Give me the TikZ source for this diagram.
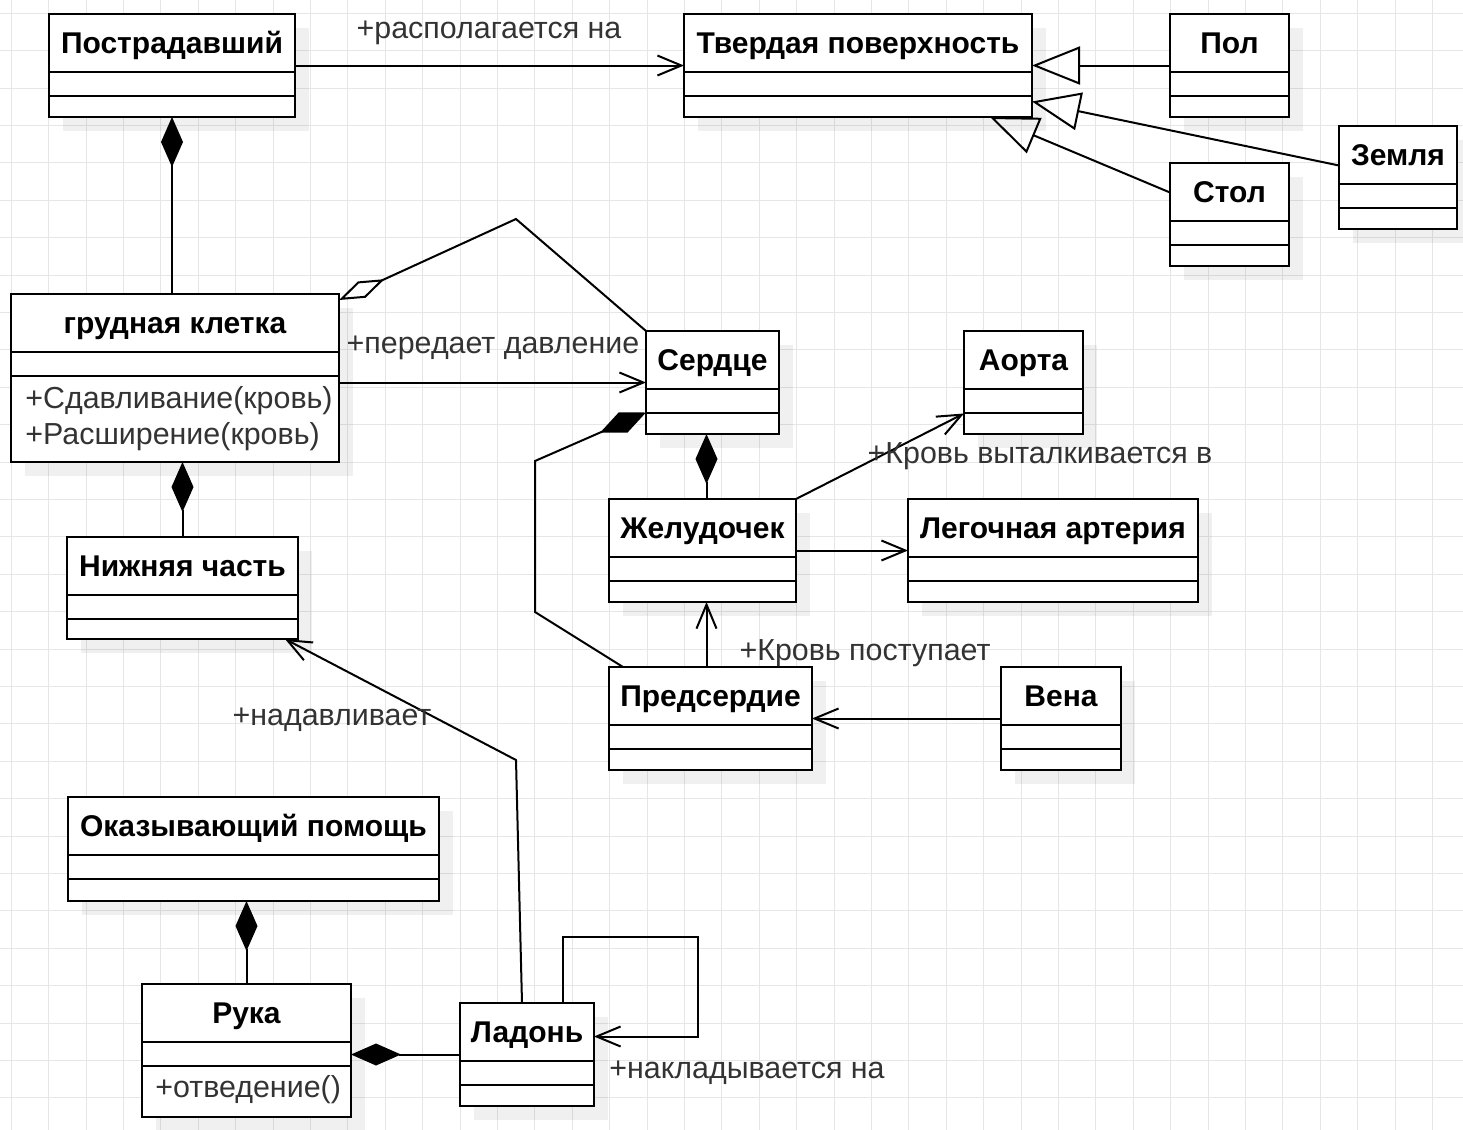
\documentclass[tikz,border=0pt]{standalone}
\usepackage{fontspec}
\setmainfont{Liberation Sans}
\usetikzlibrary{arrows.meta,shadows}
\definecolor{gridgrey}{HTML}{E6E6E6}
\definecolor{labelgrey}{HTML}{333333}
\tikzset{
  classbox/.style={draw,line width=1pt,fill=white,anchor=north west,inner sep=0pt,outer sep=0pt,
    drop shadow={shadow xshift=7pt,shadow yshift=-7pt,fill=black,opacity=0.06}},
  classline/.style={line width=1pt},
  classtitle/.style={anchor=base,inner sep=0pt,font=\fontsize{15}{18}\selectfont\bfseries},
  classops/.style={anchor=base west,align=left,inner sep=0pt,text=labelgrey,font=\fontsize{15.2}{18}\selectfont},
  rolelabel/.style={anchor=base,inner sep=0pt,text=labelgrey,font=\fontsize{15.2}{18}\selectfont},
  assoc/.style={line width=1pt,-{Straight Barb[length=12pt,width=10pt]}},
  inherit/.style={line width=1pt,-{Triangle[open,length=24pt,width=19pt]}},
  compos/.style={line width=1pt,{Diamond[length=25pt,width=11pt]}-},
  aggreg/.style={line width=1pt,{Diamond[open,length=25pt,width=9pt]}-}
}
% class box: name, top left corner, width, height (px), title
\newcommand{\umlclass}[5]{%
  \node[classbox,minimum width=#3*0.5pt,minimum height=#4*0.5pt] (#1) at (#2) {};
  \node[classtitle] (#1-name) at ([yshift=-19.75pt]#1.north) {#5};
  \draw[classline] ([yshift=-29pt]#1.north west) -- ([yshift=-29pt]#1.north east);
  \draw[classline] ([yshift=-41pt]#1.north west) -- ([yshift=-41pt]#1.north east);}

\begin{document}
\begin{tikzpicture}[x=0.5pt,y=-0.5pt]
\fill[white] (0,0) rectangle (1463,1130);
\useasboundingbox (0,0) rectangle (1463,1130);
\foreach \gx in {0,...,38}
  \draw[gridgrey,line width=0.5pt] (11.2+37.4*\gx,0) -- (11.2+37.4*\gx,1130);
\foreach \gy in {0,...,29}
  \draw[gridgrey,line width=0.5pt] (0,13.2+37.4*\gy) -- (1463,13.2+37.4*\gy);

% classes
\umlclass{post}{49,14}{246}{103}{Пострадавший}
\umlclass{tverd}{684,14}{348}{103}{Твердая поверхность}
\umlclass{pol}{1170,14}{119}{103}{Пол}
\umlclass{zemlya}{1339,126}{118}{103}{Земля}
\umlclass{stol}{1170,163}{119}{103}{Стол}
\umlclass{grud}{11,294}{328}{168}{грудная клетка}
\umlclass{serdce}{646,331}{133}{103}{Сердце}
\umlclass{aorta}{964,331}{119}{103}{Аорта}
\umlclass{zhel}{609,499}{187}{103}{Желудочек}
\umlclass{leg}{908,499}{290}{103}{Легочная артерия}
\umlclass{niz}{67,537}{231}{102}{Нижняя часть}
\umlclass{predserd}{609,667}{203}{103}{Предсердие}
\umlclass{vena}{1001,667}{120}{103}{Вена}
\umlclass{okaz}{68,797}{371}{104}{Оказывающий помощь}
\umlclass{ruka}{142,984}{209}{133}{Рука}
\umlclass{ladon}{460,1003}{134}{103}{Ладонь}
\node[classops] (grud-ops) at (25,444) {+Сдавливание(кровь)\\+Расширение(кровь)};
\node[classops] (ruka-ops) at (155,1097) {+отведение()};

% surfaces
\draw[assoc] (post.east) -- (tverd.west);
\node[rolelabel] (rasp) at (489,38) {+располагается на};
\draw[inherit] (pol.west) -- (tverd.east);
\draw[inherit] ([yshift=6pt]zemlya.west) -- ([yshift=-18pt]tverd.east);
\draw[inherit] ([yshift=11pt]stol.west) -- ([xshift=-21pt]tverd.south east);

% chest and heart
\draw[compos] (post.south) -- (post.south |- grud.north);
\coordinate (aggbend) at (516,219);
\draw[aggreg] ([yshift=-3pt]grud.north east) -- (aggbend) -- (serdce.north west);
\draw[assoc] (grud.east |- serdce.west) -- (serdce.west);
\node[rolelabel] (pered) at (493,353) {+передает давление};
\draw[compos] (niz.north |- grud.south) -- (niz.north);
\coordinate (bendA) at (535,461);
\coordinate (bendB) at (535,612);
\draw[compos] ([yshift=-15pt]serdce.west) -- (bendA) -- (bendB) -- ([xshift=7pt]predserd.north west);
\draw[compos] ([xshift=-3pt]serdce.south) -- ([xshift=-3pt]serdce.south |- zhel.north);
\draw[assoc] (zhel.north east) -- ([yshift=-15.5pt]aorta.west);
\node[rolelabel] (vytalk) at (1040,463) {+Кровь выталкивается в};
\draw[assoc] (zhel.east) -- (leg.west);
\draw[assoc] ([xshift=-2pt]predserd.north) -- ([xshift=-2pt]predserd.north |- zhel.south);
\node[rolelabel] (postup) at (865,660) {+Кровь поступает};
\draw[assoc] (vena.west) -- (predserd.east);

% rescuer
\coordinate (pressbend) at (516,760);
\draw[assoc] ([xshift=-2.5pt]ladon.north) -- (pressbend) -- ([xshift=-6.5pt]niz.south east);
\node[rolelabel] (nadav) at (332,725) {+надавливает};
\draw[compos] (ruka.east |- ladon.west) -- (ladon.west);
\draw[compos] (ruka.north |- okaz.south) -- (ruka.north);
\coordinate (loopcorner) at (698,937);
\draw[assoc] ([xshift=18pt]ladon.north) |- (loopcorner) |- ([yshift=9pt]ladon.east);
\node[rolelabel] (naklad) at (747,1078) {+накладывается на};
\end{tikzpicture}
\end{document}
